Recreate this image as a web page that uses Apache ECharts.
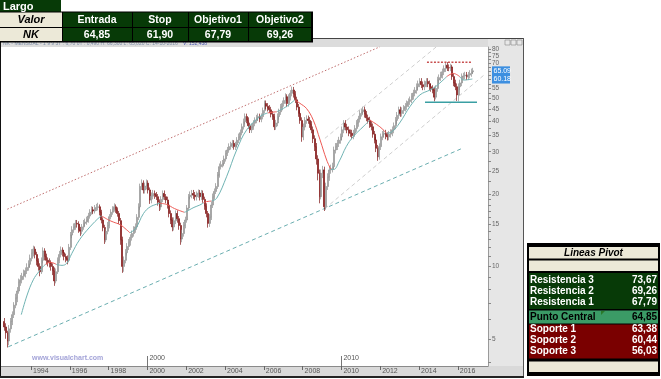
<!DOCTYPE html>
<html><head><meta charset="utf-8">
<script src="https://cdn.jsdelivr.net/npm/echarts@6/dist/echarts.min.js"></script>
<style>html,body{margin:0;padding:0;background:#fff}#c{width:661px;height:379px}</style>
</head><body><div id="c"></div><script>
// ---------- DATA ----------
const firstYear = 1992, firstMonth = 7; // Aug 1992, monthly candles
const firstOpen = 5.9;
const closes = [
5.6,5.3,4.9,5.5,5.9,
6.3,6.9,7.4,7.9,8.6,8.8,9.1,9.3,9.6,9.9,10.2,10.8,
11.4,11.8,11.2,10.5,10.0,9.5,10.6,11.6,11.0,10.6,10.4,10.3,
10.0,9.6,8.7,9.5,10.6,11.2,11.7,11.4,11.0,10.8,10.6,12.0,
13.5,14.2,14.6,15.1,15.0,14.2,14.0,14.6,15.1,15.3,15.6,16.2,
16.8,17.2,17.0,17.4,17.6,17.7,16.8,15.6,14.5,12.9,14.0,14.8,
16.1,16.8,17.3,17.7,17.2,16.6,15.5,12.9,10.0,10.6,11.4,12.1,
12.6,13.2,13.7,14.2,14.6,16.0,17.7,21.5,22.2,20.8,21.6,22.2,
20.8,18.9,19.6,20.1,19.8,19.5,18.5,17.7,19.0,20.1,19.5,18.9,
18.0,16.6,15.6,14.6,15.5,16.6,15.8,14.8,13.0,13.7,14.8,15.6,
17.5,19.5,19.8,20.1,19.8,19.5,19.9,20.2,19.5,20.1,19.0,17.8,
16.6,15.1,16.0,18.0,19.5,20.5,21.5,24.0,26.0,26.5,26.8,28.0,
29.5,30.5,31.5,32.0,32.5,31.5,32.0,33.5,34.6,36.0,38.1,40.0,
42.0,40.5,38.5,37.0,38.0,39.4,40.5,41.5,42.0,41.0,42.0,44.5,
47.6,46.4,45.5,44.8,43.0,42.0,38.1,39.5,42.0,44.0,46.0,47.6,
49.0,50.8,47.6,50.5,52.5,54.2,52.0,49.3,46.0,43.3,40.5,34.6,
38.0,40.5,41.0,40.5,39.0,37.0,34.0,31.5,28.0,24.4,19.5,24.4,
25.2,17.7,21.5,23.5,25.2,25.5,26.0,30.5,31.5,32.5,33.5,34.6,
37.0,39.4,38.0,37.0,36.0,35.8,35.0,35.8,37.5,39.4,41.0,43.3,
44.0,44.8,43.0,41.5,40.6,39.0,38.1,35.5,33.6,31.0,28.6,31.5,
34.6,35.5,35.8,35.0,34.6,35.5,36.0,37.0,38.5,40.5,42.5,44.8,
43.3,44.5,45.5,46.3,47.5,48.5,49.3,51.0,52.6,54.0,55.9,57.5,
58.8,57.0,55.9,57.5,58.8,57.5,55.9,55.0,54.2,50.6,55.0,59.6,
61.0,62.5,64.5,66.5,68.7,67.1,67.0,67.6,61.6,58.0,55.9,51.7,
55.9,58.0,61.6,62.0,62.5,61.5,62.5,63.5,64.5,65.1];
const highs = [
6.1,5.8,5.4,5.7,6.1,
6.5,7.1,7.7,8.2,8.9,9.2,9.4,9.7,9.9,10.3,10.6,11.2,
11.8,12.2,12.1,11.5,10.8,10.3,10.9,12.0,11.9,11.3,10.9,10.8,
10.6,10.3,9.9,9.8,10.9,11.6,12.1,12.0,11.7,11.3,11.1,12.4,
13.9,14.7,15.1,15.6,15.6,15.4,14.6,15.0,15.6,15.8,16.1,16.7,
17.3,17.8,17.7,18.0,18.2,18.4,18.1,17.2,16.0,14.9,14.4,15.3,
16.5,17.3,17.8,18.3,18.1,17.6,17.0,15.9,13.3,11.0,11.8,12.5,
13.0,13.6,14.1,14.7,15.1,16.5,18.3,22.1,23.0,22.8,22.3,23.0,
22.8,21.3,20.3,20.8,20.7,20.4,20.0,19.0,19.6,20.7,20.7,20.0,
19.5,18.5,17.1,16.0,16.0,17.1,17.1,16.2,15.2,14.2,15.3,16.1,
18.0,20.0,20.5,20.8,20.8,20.4,20.5,20.9,20.8,20.8,20.7,19.5,
18.3,17.0,16.5,18.6,20.1,21.1,22.2,24.7,26.8,27.4,27.7,28.9,
30.4,31.4,32.5,33.0,33.6,33.5,33.0,34.5,35.7,37.1,39.3,41.2,
43.3,43.2,41.7,39.6,39.2,40.6,41.7,42.7,43.3,43.2,43.3,45.8,
49.0,49.0,47.8,46.9,46.1,44.3,43.2,40.7,43.3,45.3,47.4,49.0,
50.5,52.5,52.0,52.0,54.1,56.0,55.8,53.6,50.8,47.4,44.6,41.7,
39.3,41.8,42.5,42.4,41.8,40.2,38.2,35.1,32.6,29.0,25.3,25.3,
26.2,26.0,22.3,24.4,26.1,26.5,27.0,31.5,32.6,33.6,34.6,35.7,
38.2,40.6,40.6,39.2,38.2,37.1,37.0,37.0,38.7,40.6,42.3,44.6,
45.4,46.2,46.2,44.3,42.8,41.9,40.2,39.3,36.6,34.6,32.0,32.5,
35.7,36.6,37.0,37.0,36.1,36.6,37.2,38.2,39.7,41.8,43.9,46.2,
46.2,45.9,46.9,47.8,49.0,50.0,50.9,52.6,54.3,55.7,57.7,59.3,
60.7,60.7,58.8,59.3,60.7,60.7,59.3,57.7,56.7,55.9,56.7,61.5,
62.9,64.5,66.5,68.6,70.5,70.8,69.2,69.7,69.0,63.5,59.8,57.7,
57.7,59.8,63.5,63.9,64.5,64.4,64.4,65.5,66.5,67.0];
const lows = [
5.4,5.0,4.6,4.7,5.3,
5.7,6.1,6.7,7.1,7.7,8.3,8.5,8.8,9.0,9.3,9.6,9.9,
10.5,11.0,10.8,10.1,9.6,9.1,9.3,10.3,10.6,10.2,10.0,9.9,
9.6,9.2,8.3,8.5,9.3,10.3,10.9,11.0,10.6,10.4,10.2,10.4,
11.7,13.1,13.8,14.2,14.5,13.8,13.4,13.6,14.2,14.7,14.9,15.2,
15.8,16.4,16.5,16.6,17.0,17.1,16.3,15.1,14.0,12.4,12.6,13.6,
14.4,15.7,16.4,16.9,16.7,16.1,15.0,12.3,9.4,9.5,10.3,11.1,
11.7,12.2,12.8,13.3,13.8,14.2,15.6,17.2,20.8,20.1,20.1,20.9,
20.1,18.2,18.3,19.0,19.1,18.9,17.9,17.0,17.2,18.5,18.9,18.3,
17.4,16.0,15.0,14.0,14.1,15.0,15.2,14.2,12.3,12.6,13.3,14.4,
15.2,17.1,19.0,19.2,19.1,18.8,18.8,19.3,18.8,18.9,18.4,17.2,
16.0,14.5,14.6,15.6,17.5,19.0,20.0,21.0,23.4,25.3,25.8,26.1,
27.3,28.8,29.7,30.6,31.1,30.6,30.5,31.2,32.6,33.7,35.1,37.1,
39.0,39.4,37.4,35.9,35.9,37.0,38.3,39.4,40.3,39.8,39.8,40.9,
43.3,45.0,44.1,43.4,41.7,40.7,36.9,37.0,38.3,40.8,42.7,44.6,
46.2,47.5,46.0,46.2,49.0,51.0,50.4,47.8,44.6,41.9,39.2,33.0,
33.5,36.8,39.2,39.2,37.7,35.8,32.6,30.2,26.5,22.8,18.3,19.0,
23.3,17.0,17.2,20.8,22.7,24.3,24.6,25.2,29.5,30.5,31.4,32.4,
33.5,35.8,36.8,35.8,34.8,34.6,33.8,33.8,34.6,36.3,38.1,39.7,
42.0,42.6,41.6,40.2,39.3,37.7,36.8,34.3,32.5,29.9,27.5,27.8,
30.5,33.5,34.3,33.8,33.4,33.5,34.3,34.8,35.8,37.2,39.2,41.1,
41.9,42.0,43.1,44.1,44.8,46.0,47.0,47.8,49.4,51.0,52.3,54.1,
55.7,55.2,54.1,54.1,55.7,55.7,54.1,53.3,52.5,48.6,49.5,53.3,
57.7,59.1,60.5,62.5,64.4,65.0,64.9,64.9,59.7,56.2,54.1,48.8,
48.6,54.1,56.2,59.7,60.0,59.6,59.6,60.6,61.5,63.1];

// moving average: [decimal year, value]
const maTealSegments = [
 [[1993.5,6.3],[1993.8,7.6],[1994.12,8.8],[1994.4,9.5],[1994.63,10.0],[1994.75,10.2]],
 [[1995.3,10.2],[1995.6,10.1],[1995.84,10.3],[1996.1,11.3],[1996.5,12.9],[1997.04,14.6],[1997.56,16.1],[1997.65,16.2]],
 [[1999.1,13.8],[1999.4,14.4],[1999.8,16.6],[2000.15,17.7],[2000.65,18.3]],
 [[2001.9,16.8],[2002.0,16.9],[2002.4,17.6],[2002.7,18.0],[2002.9,18.4]],
 [[2003.3,18.7],[2003.57,19.2],[2004.08,23.6],[2004.6,30.5],[2005.12,37.0],[2005.8,42.0],[2006.2,43.5]],
 [[2006.67,44.0],[2007.18,46.3],[2007.6,49.3]],
 [[2009.45,25.4],[2009.6,25.3],[2009.9,27.5],[2010.25,31.5],[2010.6,34.6],[2011.12,38.1],[2011.47,40.6]],
 [[2012.33,35.8],[2012.6,36.3],[2013.0,39.5],[2013.54,46.3],[2014.05,51.7],[2014.57,54.2],[2014.85,55.9],[2015.43,61.6]],
 [[2016.1,61.6],[2016.3,59.6],[2016.75,60.2]]
];
const maRedSegments = [
 [[1994.75,10.2],[1995.0,10.4],[1995.3,10.2]],
 [[1997.65,16.2],[1998.0,15.6],[1998.24,15.3],[1998.6,14.9],[1998.93,14.2],[1999.1,13.8]],
 [[2000.65,18.3],[2001.0,18.1],[2001.4,17.4],[2001.9,16.8]],
 [[2002.9,18.4],[2003.05,18.6],[2003.3,18.7]],
 [[2006.2,43.5],[2006.45,43.8],[2006.67,44.0]],
 [[2007.6,49.3],[2007.86,47.7],[2008.2,45.4],[2008.55,40.6],[2008.9,33.6],[2009.24,27.7],[2009.45,25.4]],
 [[2011.47,40.6],[2011.98,38.1],[2012.33,35.8]],
 [[2015.43,61.6],[2015.77,63.5],[2016.1,61.6]]
];
// drawn trend lines: [decimal year, value]
const upperRedLine = [[1992.78,17.3],[2011.99,82.0]];
const lowerTealLine = [[1992.83,4.63],[2016.27,31.1]];
const grayUpperLine = [[2009.15,34.1],[2014.9,82.0]];
const grayLowerLine = [[2009.15,17.4],[2017.4,63.0]];
const resistLine = [[2014.41,70.6],[2016.73,70.6]];
const supportLine = [[2014.31,48.2],[2016.99,48.2]];
const lastPrice = 65.09, lastMA = 60.18;

// axes
const yTickLabels = [5,10,15,20,25,30,35,40,45,50,55,60,65,70,75];
const yTopLabel = [80];
const yTickMarks = [4,5,6,7,8,9,10,11,12,13,14,15,16,17,18,19,20,22.5,25,27.5,30,32.5,35,37.5,40,42.5,45,47.5,50,52.5,55,57.5,60,62.5,65,67.5,70,72.5,75,77.5,80];
const xTickYears = [1994,1996,1998,2000,2002,2004,2006,2008,2010,2012,2014,2016];
const decadeYears = [2000,2010];
const yRange = [3.852, 81.8];
const xRange = [1992.454, 2017.557];

// tables
const tradeTitle = 'Largo';
const tradeHeader = ['Valor','Entrada','Stop','Objetivo1','Objetivo2'];
const tradeRow = ['NK','64,85','61,90','67,79','69,26'];
const pivotTitle = 'Lineas Pivot';
const pivotNames = ['Resistencia 3','Resistencia 2','Resistencia 1','Punto Central','Soporte 1','Soporte 2','Soporte 3'];
const pivotValues = ['73,67','69,26','67,79','64,85','63,38','60,44','56,03'];
const infoText = 'NK - MENSUAL - 1 9 9 3T : 6,70 0T : 0,490 H: 66,300 L: 65,020 C: 14-10-2016';
const infoText2 = 'V: 152,438';
const watermark = 'www.visualchart.com';

// ---------- BUILD ----------
const L = Math.log;
const candles = closes.map((c,i)=>{
  const m = firstMonth+i;
  const x = firstYear + (m + 0.5)/12;
  const o = i===0 ? firstOpen : closes[i-1];
  return [x, L(o), L(c), L(lows[i]), L(highs[i])];
});
const pts = arr => arr.map(p=>[p[0], L(p[1])]);
const FONT = 'Liberation Sans';
const NARROW = '"Liberation Sans Narrow", "Liberation Sans", sans-serif';

const series = [];
function lineS(data, color, type, width, z){
  series.push({type:'line', data:pts(data), showSymbol:false, silent:true, z:z,
    lineStyle:{color:color, width:width, type:type}, animation:false});
}
lineS(upperRedLine, '#c07070', [1.5,2], 1, 1);
lineS(lowerTealLine, '#6aaeb0', [4,3], 1, 1);
lineS(grayUpperLine, '#cfcfcf', [4,3], 1, 1);
lineS(grayLowerLine, '#cfcfcf', [4,3], 1, 1);
series.push({type:'candlestick', data:candles, barWidth:1.5, z:2, animation:false, silent:true,
  itemStyle:{color:'#c8c8c8', color0:'#9e1b1b', borderColor:'#8c8c8c', borderColor0:'#7d1414', borderWidth:0.7}});
maTealSegments.forEach(s=>series.push({type:'line', data:pts(s), smooth:0.4, showSymbol:false, z:3, silent:true, animation:false, lineStyle:{color:'#6fb3b3', width:1}}));
maRedSegments.forEach(s=>series.push({type:'line', data:pts(s), smooth:0.4, showSymbol:false, z:3, silent:true, animation:false, lineStyle:{color:'#ee5a55', width:1}}));
lineS(resistLine, '#c85050', [2,1.5], 1.5, 4);
lineS(supportLine, '#3a9fa3', 'solid', 1.5, 4);

const yLabelStyle = {fontSize:6.5, color:'#666', margin:4, fontFamily:NARROW, formatter:v=>String(Math.round(Math.exp(v)))};
const chart = echarts.init(document.getElementById('c'), null, {renderer:'canvas'});
const option = {
  animation:false,
  grid:{left:1, right:173, top:47, bottom:13, containLabel:false},
  xAxis:[{
    type:'value', min:xRange[0], max:xRange[1],
    axisLine:{show:true, onZero:false, lineStyle:{color:'#8a8a8a', width:1}},
    axisTick:{show:true, customValues:xTickYears, length:4, lineStyle:{color:'#666'}},
    axisLabel:{show:true, customValues:xTickYears, formatter:v=>String(Math.round(v)),
      align:'left', padding:[0,0,0,2], margin:2, fontSize:7, color:'#555', fontFamily:NARROW, showMinLabel:true, showMaxLabel:true},
    splitLine:{show:false}
  },{
    type:'value', min:xRange[0], max:xRange[1], position:'bottom',
    axisLine:{show:false, onZero:false},
    axisTick:{show:true, inside:true, customValues:decadeYears, length:10, lineStyle:{color:'#777'}},
    axisLabel:{show:true, inside:true, customValues:decadeYears, formatter:v=>String(Math.round(v)),
      align:'left', padding:[0,0,0,2], margin:4, fontSize:7, color:'#555', fontFamily:NARROW},
    splitLine:{show:false}
  }],
  yAxis:[{
    type:'value', position:'right', min:L(yRange[0]), max:L(yRange[1]),
    axisLine:{show:true, onZero:false, lineStyle:{color:'#9a9a9a'}},
    axisTick:{show:true, customValues:yTickMarks.map(L), length:3, lineStyle:{color:'#888'}},
    axisLabel:Object.assign({show:true, customValues:yTickLabels.map(L), showMinLabel:true, showMaxLabel:true, hideOverlap:false}, yLabelStyle),
    splitLine:{show:false}
  },{
    type:'value', position:'right', offset:0, min:L(yRange[0]), max:L(yRange[1]),
    axisLine:{show:false, onZero:false},
    axisTick:{show:false},
    axisLabel:Object.assign({show:true, customValues:yTopLabel.map(L), showMaxLabel:true}, yLabelStyle),
    splitLine:{show:false}
  }],
  series:series
};
chart.setOption(option);

// ---------- decorations ----------
const g = [];
function rect(x,y,w,h,fill,z){g.push({type:'rect', shape:{x,y,width:w,height:h}, style:{fill}, z:z||-10, silent:true});}
function text(x,y,t,opt){g.push({type:'text', x, y, z:(opt&&opt.z)||120, silent:true,
  style:Object.assign({text:t, fill:'#fff', font:'bold 10px '+FONT, textVerticalAlign:'middle'}, opt||{})});}
rect(0,38,524,340,'#e6e6e6',-20);
rect(0,38,488,9,'#dcdcdc',-19);
rect(1,47,487,319,'#ffffff',-19);
rect(0,366,524,11,'#d9d9d9',-19);
rect(0,38,524,1,'#444',100);
rect(0,38,1,340,'#111',100);
rect(523,38,1,340,'#555',100);
rect(0,376,524,2,'#222',100);
[505,511,517].forEach(x=>g.push({type:'rect', shape:{x:x,y:40,width:5,height:5}, style:{fill:'#e8e8e8', stroke:'#888', lineWidth:0.6}, z:101, silent:true}));
text(3,44,infoText,{fill:'#8090a8', font:'5px '+FONT, z:101});
text(183,44,infoText2,{fill:'#4a56b0', font:'5px '+FONT, z:101});
text(32,358.5,watermark,{fill:'#a3a3d8', font:'bold 7px '+FONT, z:5});

const cols=[0,62,132,188,248,312];
const DG='#073a07', BEIGE='#ece9d8';
rect(0,0,61,12,DG,110);
text(3,6.5,tradeTitle,{font:'bold 11px '+FONT});
rect(0,11.5,313,31,'#000',110);
for(let i=0;i<5;i++){
  const x0=cols[i]+(i===0?0:1), w=cols[i+1]-cols[i]-(i===0?0:1)-(i===4?1:0);
  rect(x0,12.5,w,14.5,i===0?BEIGE:DG,111);
  rect(x0,28,w,13,i===0?BEIGE:DG,111);
  const cx=(cols[i]+cols[i+1])/2;
  const st = i===0 ? {fill:'#000', font:'italic bold 11px '+FONT, textAlign:'center'} : {fill:'#fff', font:'bold 10.5px '+FONT, textAlign:'center'};
  text(cx,20,tradeHeader[i],st);
  text(cx,34.8,tradeRow[i],st);
}
rect(527,243,133,133,'#000',110);
rect(529,247,129,11.5,BEIGE,111);
text(593.5,252.8,pivotTitle,{fill:'#000', font:'italic bold 10px '+FONT, textAlign:'center'});
rect(529,260.5,129,10.5,BEIGE,111);
rect(529,273,129,36,DG,111);
rect(529,310.5,129,13,'#3b9b66',111);
rect(529,324.5,129,34,'#7a0000',111);
rect(529,361.5,129,10.5,BEIGE,111);
g.push({type:'polygon', shape:{points:[[601,311],[605,311],[601,315]]}, style:{fill:'#2a7a2a'}, z:112, silent:true});
const pivotY=[280,291.5,302.5,317,329.5,340.5,351.5];
pivotNames.forEach((n,i)=>{
  const col = i===3 ? '#000' : '#fff';
  text(530,pivotY[i],n,{fill:col, font:'bold 10px '+FONT});
  text(657,pivotY[i],pivotValues[i],{fill:col, font:'bold 10px '+FONT, textAlign:'right'});
});
[lastPrice,lastMA].forEach(v=>{
  const py = chart.convertToPixel({yAxisIndex:0}, L(v));
  g.push({type:'rect', shape:{x:492,y:py-4.5,width:18,height:9}, style:{fill:'#3d8fe0'}, z:120, silent:true});
  text(493.5,py,v.toFixed(2),{fill:'#fff', font:'7px '+NARROW, z:121});
});
chart.setOption({graphic:{elements:g}});
</script></body></html>
